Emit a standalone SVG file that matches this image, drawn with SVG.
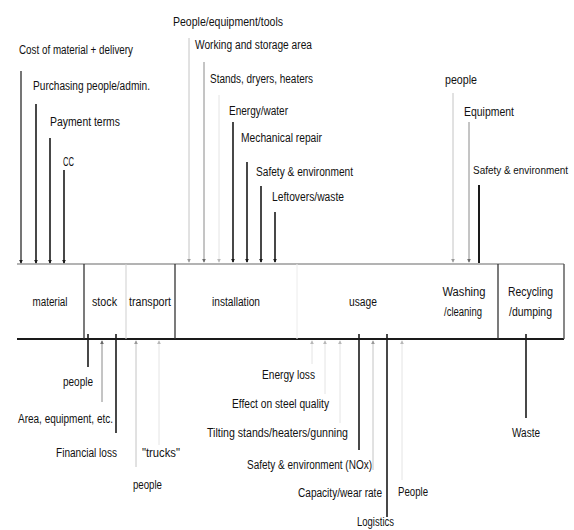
<svg xmlns="http://www.w3.org/2000/svg" width="574" height="530" viewBox="0 0 574 530">
  <style>
    text { font-family: "Liberation Sans", Arial, sans-serif; font-size: 12px; fill: #111; }
    .c { text-anchor: middle; }
    .dark { stroke: #1a1a1a; stroke-width: 1.6; fill: none; }
    .gray { stroke: #8a8a8a; stroke-width: 1; fill: none; }
    .light { stroke: #c4c4c4; stroke-width: 1; fill: none; }
    .faint { stroke: #e4e4e4; stroke-width: 1; fill: none; }
    .dark.a { marker-end: url(#mDark); }
    .gray.a { marker-end: url(#mGray); }
    .light.a { marker-end: url(#mLight); }
    .faint.a { marker-end: url(#mFaint); }
  </style>
  <defs>
    <marker id="mDark" viewBox="0 0 6 6" refX="5" refY="3" markerWidth="4" markerHeight="4" markerUnits="userSpaceOnUse" orient="auto"><path d="M0,0 L6,3 L0,6 Z" fill="#1a1a1a"/></marker>
    <marker id="mGray" viewBox="0 0 6 6" refX="5" refY="3" markerWidth="4" markerHeight="4" markerUnits="userSpaceOnUse" orient="auto"><path d="M0,0 L6,3 L0,6 Z" fill="#6a6a6a"/></marker>
    <marker id="mLight" viewBox="0 0 6 6" refX="5" refY="3" markerWidth="4" markerHeight="4" markerUnits="userSpaceOnUse" orient="auto"><path d="M0,0 L6,3 L0,6 Z" fill="#9a9a9a"/></marker>
    <marker id="mFaint" viewBox="0 0 6 6" refX="5" refY="3" markerWidth="4" markerHeight="4" markerUnits="userSpaceOnUse" orient="auto"><path d="M0,0 L6,3 L0,6 Z" fill="#b8b8b8"/></marker>
  </defs>

  <rect width="574" height="530" fill="#ffffff"/>

  <!-- life-cycle strip -->
  <g id="strip">
    <line x1="17" y1="264" x2="564" y2="264" stroke="#9a9a9a" stroke-width="1.6"/>
    <line x1="17" y1="339" x2="564" y2="339" stroke="#1a1a1a" stroke-width="2"/>
    <line x1="564" y1="264" x2="564" y2="339" stroke="#555" stroke-width="1.4"/>
    <line x1="84" y1="264" x2="84" y2="339" stroke="#333" stroke-width="1.3"/>
    <line x1="126" y1="264" x2="126" y2="339" stroke="#cfcfcf" stroke-width="1"/>
    <line x1="175" y1="264" x2="175" y2="339" stroke="#333" stroke-width="1.3"/>
    <line x1="297" y1="264" x2="297" y2="339" stroke="#ececec" stroke-width="1"/>
    <line x1="498" y1="264" x2="498" y2="339" stroke="#333" stroke-width="1.3"/>
  </g>
  <g id="material"><text x="50" y="306" class="c" textLength="35" lengthAdjust="spacingAndGlyphs">material</text></g>
  <g id="stock"><text x="104.5" y="306" class="c" textLength="25" lengthAdjust="spacingAndGlyphs">stock</text></g>
  <g id="transport"><text x="150" y="306" class="c" textLength="42" lengthAdjust="spacingAndGlyphs">transport</text></g>
  <g id="installation"><text x="236" y="306" class="c" textLength="48" lengthAdjust="spacingAndGlyphs">installation</text></g>
  <g id="usage"><text x="363" y="306" class="c" textLength="28" lengthAdjust="spacingAndGlyphs">usage</text></g>
  <g id="washing">
    <text x="464" y="296" class="c" textLength="43" lengthAdjust="spacingAndGlyphs">Washing</text>
    <text x="463" y="316" class="c" textLength="38" lengthAdjust="spacingAndGlyphs">/cleaning</text>
  </g>
  <g id="recycling">
    <text x="530.5" y="296" class="c" textLength="45" lengthAdjust="spacingAndGlyphs">Recycling</text>
    <text x="530.5" y="316" class="c" textLength="43" lengthAdjust="spacingAndGlyphs">/dumping</text>
  </g>

  <!-- connectors -->
  <g id="connectors">
    <!-- inputs from above -->
    <line class="dark a" x1="21" y1="71" x2="21" y2="263" style="stroke-width:1.2"/>
    <line class="dark a" x1="36" y1="104" x2="36" y2="263"/>
    <line class="dark a" x1="50" y1="138" x2="50" y2="263"/>
    <line class="dark a" x1="64" y1="170" x2="64" y2="263"/>
    <line class="light a" x1="189" y1="38" x2="189" y2="262"/>
    <line class="gray a" x1="204" y1="62" x2="204" y2="262"/>
    <line class="faint a" x1="219" y1="95" x2="219" y2="262"/>
    <line class="dark a" x1="233" y1="122" x2="233" y2="262"/>
    <line class="dark a" x1="247" y1="162" x2="247" y2="262"/>
    <line class="dark a" x1="261" y1="186" x2="261" y2="262"/>
    <line class="dark a" x1="275" y1="212" x2="275" y2="262"/>
    <line class="light a" x1="453" y1="93" x2="453" y2="262"/>
    <line class="gray a" x1="469" y1="122" x2="469" y2="262"/>
    <line class="dark" x1="479" y1="185" x2="479" y2="263" style="stroke-width:2"/>

    <!-- outputs below -->
    <line class="dark" x1="88" y1="334" x2="88" y2="367"/>
    <line class="gray a" x1="102" y1="402" x2="102" y2="341"/>
    <line class="dark" x1="116" y1="334" x2="116" y2="433"/>
    <line class="light a" x1="136" y1="467" x2="136" y2="341"/>
    <line class="faint a" x1="159" y1="445" x2="159" y2="341"/>
    <line class="faint a" x1="312" y1="364" x2="312" y2="341"/>
    <line class="faint a" x1="325" y1="394" x2="325" y2="341"/>
    <line class="faint a" x1="340" y1="423" x2="340" y2="341"/>
    <line class="dark" x1="359" y1="334" x2="359" y2="450"/>
    <line class="light a" x1="373" y1="470" x2="373" y2="341"/>
    <line class="dark" x1="387" y1="334" x2="387" y2="517"/>
    <line class="faint a" x1="402" y1="480" x2="402" y2="341"/>
    <line class="dark" x1="526" y1="334" x2="526" y2="418"/>
  </g>

  <!-- input labels -->
  <g id="in-material">
    <text x="19" y="54" textLength="114" lengthAdjust="spacingAndGlyphs">Cost of material + delivery</text>
    <text x="33" y="90" textLength="117" lengthAdjust="spacingAndGlyphs">Purchasing people/admin.</text>
    <text x="50" y="126" textLength="70" lengthAdjust="spacingAndGlyphs">Payment terms</text>
    <text x="63" y="166" textLength="11" lengthAdjust="spacingAndGlyphs">CC</text>
  </g>
  <g id="in-installation">
    <text x="173" y="26" textLength="110" lengthAdjust="spacingAndGlyphs">People/equipment/tools</text>
    <text x="195" y="49" textLength="117" lengthAdjust="spacingAndGlyphs">Working and storage area</text>
    <text x="210" y="83" textLength="103" lengthAdjust="spacingAndGlyphs">Stands, dryers, heaters</text>
    <text x="229" y="115" textLength="59" lengthAdjust="spacingAndGlyphs">Energy/water</text>
    <text x="241" y="142" textLength="81" lengthAdjust="spacingAndGlyphs">Mechanical repair</text>
    <text x="256" y="176" textLength="97" lengthAdjust="spacingAndGlyphs">Safety &amp; environment</text>
    <text x="272" y="201" textLength="72" lengthAdjust="spacingAndGlyphs">Leftovers/waste</text>
  </g>
  <g id="in-washing">
    <text x="445" y="84" textLength="32" lengthAdjust="spacingAndGlyphs">people</text>
    <text x="464" y="116" textLength="50" lengthAdjust="spacingAndGlyphs">Equipment</text>
    <text x="473" y="174" style="font-size:10px" textLength="95" lengthAdjust="spacingAndGlyphs">Safety &amp; environment</text>
  </g>

  <!-- output labels -->
  <g id="out-stock">
    <text x="63" y="386" textLength="30" lengthAdjust="spacingAndGlyphs">people</text>
    <text x="18" y="423" textLength="95" lengthAdjust="spacingAndGlyphs">Area, equipment, etc.</text>
    <text x="56" y="457" textLength="61" lengthAdjust="spacingAndGlyphs">Financial loss</text>
  </g>
  <g id="out-transport">
    <text x="142" y="457" textLength="38" lengthAdjust="spacingAndGlyphs">"trucks"</text>
    <text x="133" y="489" textLength="29" lengthAdjust="spacingAndGlyphs">people</text>
  </g>
  <g id="out-usage">
    <text x="262" y="379" textLength="53" lengthAdjust="spacingAndGlyphs">Energy loss</text>
    <text x="232" y="408" textLength="97" lengthAdjust="spacingAndGlyphs">Effect on steel quality</text>
    <text x="207" y="437" textLength="141" lengthAdjust="spacingAndGlyphs">Tilting stands/heaters/gunning</text>
    <text x="247" y="469" textLength="125" lengthAdjust="spacingAndGlyphs">Safety &amp; environment (NOx)</text>
    <text x="298" y="497" textLength="84" lengthAdjust="spacingAndGlyphs">Capacity/wear rate</text>
    <text x="357" y="526" textLength="37" lengthAdjust="spacingAndGlyphs">Logistics</text>
    <text x="398" y="496" textLength="30" lengthAdjust="spacingAndGlyphs">People</text>
  </g>
  <g id="out-recycling">
    <text x="512" y="437" textLength="28" lengthAdjust="spacingAndGlyphs">Waste</text>
  </g>
</svg>
